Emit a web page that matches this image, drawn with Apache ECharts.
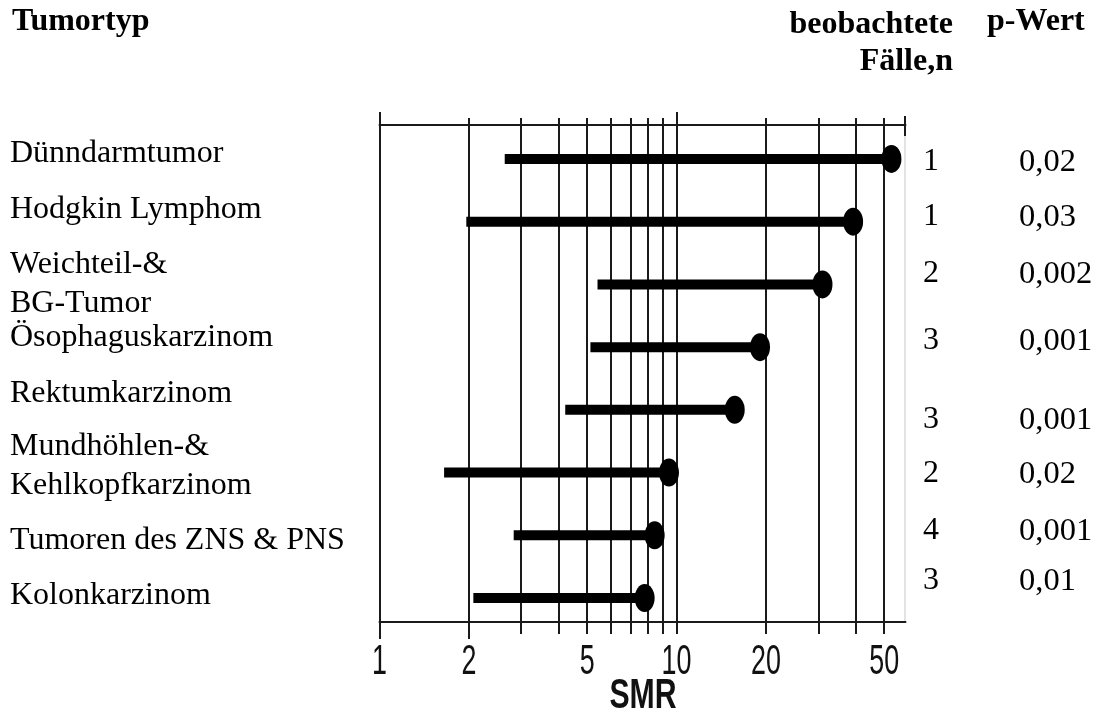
<!DOCTYPE html>
<html>
<head>
<meta charset="utf-8">
<script src="https://cdn.jsdelivr.net/npm/echarts@6/dist/echarts.min.js"></script>
<style>
  html, body { margin: 0; padding: 0; background: #fff; }
  #chart { width: 1096px; height: 708px; }
</style>
</head>
<body>
<div id="chart"></div>
<script>
// Tumour types, SMR range (lower end, point estimate), observed cases and p-values
const tumorTypes = [
  'Dünndarmtumor',
  'Hodgkin Lymphom',
  'Weichteil-&\nBG-Tumor',
  'Ösophaguskarzinom',
  'Rektumkarzinom',
  'Mundhöhlen-&\nKehlkopfkarzinom',
  'Tumoren des ZNS & PNS',
  'Kolonkarzinom'
];
const smrLower = [2.64, 1.96, 5.42, 5.13, 4.22, 1.65, 2.83, 2.07];
const smrUpper = [52.9, 39.3, 31.0, 19.1, 15.7, 9.43, 8.44, 7.81];
const observedCases = ['1', '1', '2', '3', '3', '2', '4', '3'];
const pValues = ['0,02', '0,03', '0,002', '0,001', '0,001', '0,02', '0,001', '0,01'];

// Log axis ticks / labels
const tickValues = [1, 2, 3, 4, 5, 6, 7, 8, 9, 10, 20, 30, 40, 50];
const labelValues = [1, 2, 5, 10, 20, 50];
const longTopTicks = [1, 10];
const longBottomTicks = [1, 2];
const axisTitle = 'SMR';
const headers = { type: 'Tumortyp', cases: 'beobachtete\nFälle,n', p: 'p-Wert' };

// ---- layout (pixels) ----
const AX_MIN = 1, AX_MAX = 59;
const PLOT_LEFT = 379.5, PLOT_RIGHT = 190.5, PLOT_TOP = 125, PLOT_BOTTOM = 86;
const nameTops = [134, 190, 245, 318, 374, 427, 521, 576];
const tableCenters = [162, 217, 274, 341, 420, 474, 531, 581];
const serif = "'Liberation Serif', 'Times New Roman', serif";
const sans = "'Liberation Sans', Arial, Helvetica, sans-serif";
const ink = '#000';
const gridInk = '#1a1a1a';

const rows = smrLower.map((lo, i) => [i, lo, smrUpper[i]]);
const labelRows = labelValues.map(v => [v, 0]);

const graphics = [];
graphics.push({ type: 'text', left: 12, top: 6, style: { text: headers.type, font: 'bold 32px ' + serif, fill: ink } });
graphics.push({ type: 'text', x: 953, y: 6, style: { text: headers.cases, font: 'bold 32px ' + serif, fill: ink, align: 'right', lineHeight: 37 } });
graphics.push({ type: 'text', x: 987, y: 6, style: { text: headers.p, font: 'bold 32px ' + serif, fill: ink } });
tumorTypes.forEach((name, i) => {
  graphics.push({ type: 'text', x: 10, y: nameTops[i], style: { text: name, font: '32px ' + serif, fill: ink, lineHeight: 39 } });
  graphics.push({ type: 'text', x: 923, y: tableCenters[i], style: { text: observedCases[i], font: '32px ' + serif, fill: ink, verticalAlign: 'middle' } });
  graphics.push({ type: 'text', x: 1019, y: tableCenters[i], style: { text: pValues[i], font: '32.5px ' + serif, fill: ink, verticalAlign: 'middle' } });
});
// axis title, set in a narrow bold face
graphics.push({ type: 'text', x: 643, y: 696, scaleX: 0.72, style: { text: axisTitle, font: 'bold 42px ' + sans, fill: '#111', align: 'center', verticalAlign: 'middle' } });
// right edge of the plot frame
graphics.push({ type: 'line', shape: { x1: 905, y1: 116, x2: 905, y2: 136 }, style: { stroke: gridInk, lineWidth: 2 } });
graphics.push({ type: 'line', shape: { x1: 905, y1: 136, x2: 905, y2: 622 }, style: { stroke: '#c8c8c8', lineWidth: 1 } });

const logAxis = (extra) => Object.assign({ type: 'log', logBase: 10, min: AX_MIN, max: AX_MAX }, extra);

const option = {
  animation: false,
  backgroundColor: '#fff',
  grid: [
    { left: PLOT_LEFT, right: PLOT_RIGHT, top: PLOT_TOP, bottom: PLOT_BOTTOM, containLabel: false, outerBoundsMode: 'none' },
    { left: PLOT_LEFT, right: PLOT_RIGHT, top: 127.6, bottom: 78.6, containLabel: false, outerBoundsMode: 'none' }
  ],
  xAxis: [
    logAxis({
      gridIndex: 0, position: 'bottom',
      axisLine: { show: true, lineStyle: { color: gridInk, width: 2 } },
      axisTick: { show: true, customValues: tickValues, length: 12, lineStyle: { color: gridInk, width: 2 } },
      axisLabel: { show: false },
      splitLine: { show: true, lineStyle: { color: gridInk, width: 2 } },
      minorTick: { show: false }, minorSplitLine: { show: false }
    }),
    logAxis({
      gridIndex: 0, position: 'top',
      axisLine: { show: true, lineStyle: { color: gridInk, width: 2 } },
      axisTick: { show: true, customValues: tickValues, length: 7, lineStyle: { color: gridInk, width: 2 } },
      axisLabel: { show: false }, splitLine: { show: false }
    }),
    logAxis({
      gridIndex: 0, position: 'top',
      axisLine: { show: false },
      axisTick: { show: true, customValues: longTopTicks, length: 13, lineStyle: { color: gridInk, width: 2 } },
      axisLabel: { show: false }, splitLine: { show: false }
    }),
    logAxis({
      gridIndex: 0, position: 'bottom',
      axisLine: { show: false },
      axisTick: { show: true, customValues: longBottomTicks, length: 17, lineStyle: { color: gridInk, width: 2 } },
      axisLabel: { show: false }, splitLine: { show: false }
    }),
    logAxis({ gridIndex: 1, show: false })
  ],
  yAxis: [
    { gridIndex: 0, type: 'value', min: 0, max: 1, show: false },
    { gridIndex: 1, type: 'category', data: tumorTypes, inverse: true, show: false }
  ],
  series: [
    {
      // SMR ranges: thick bar from the lower end to a filled dot at the estimate
      type: 'custom',
      xAxisIndex: 4,
      yAxisIndex: 1,
      silent: true,
      data: rows,
      encode: { x: [1, 2], y: 0 },
      renderItem: function (params, api) {
        const idx = api.value(0);
        const lo = api.coord([api.value(1), idx]);
        const hi = api.coord([api.value(2), idx]);
        return {
          type: 'group',
          children: [
            { type: 'line', shape: { x1: lo[0], y1: lo[1], x2: hi[0], y2: hi[1] }, style: { stroke: ink, lineWidth: 10 } },
            { type: 'circle', x: hi[0], y: hi[1], scaleY: 1.4, shape: { cx: 0, cy: 0, r: 10 }, style: { fill: ink } }
          ]
        };
      }
    },
    {
      // tick labels of the log axis in a condensed face, placed by the axis scale
      type: 'custom',
      xAxisIndex: 0,
      yAxisIndex: 0,
      silent: true,
      clip: false,
      data: labelRows,
      encode: { x: 0, y: 1 },
      renderItem: function (params, api) {
        const p = api.coord([api.value(0), api.value(1)]);
        return {
          type: 'text',
          x: p[0],
          y: p[1] + 40,
          scaleX: 0.64,
          style: { text: String(labelValues[params.dataIndex]), font: '42px ' + sans, fill: '#111', align: 'center', verticalAlign: 'middle' }
        };
      }
    }
  ],
  graphic: graphics
};

const chart = echarts.init(document.getElementById('chart'), null, { renderer: 'canvas' });
chart.setOption(option);
</script>
</body>
</html>
